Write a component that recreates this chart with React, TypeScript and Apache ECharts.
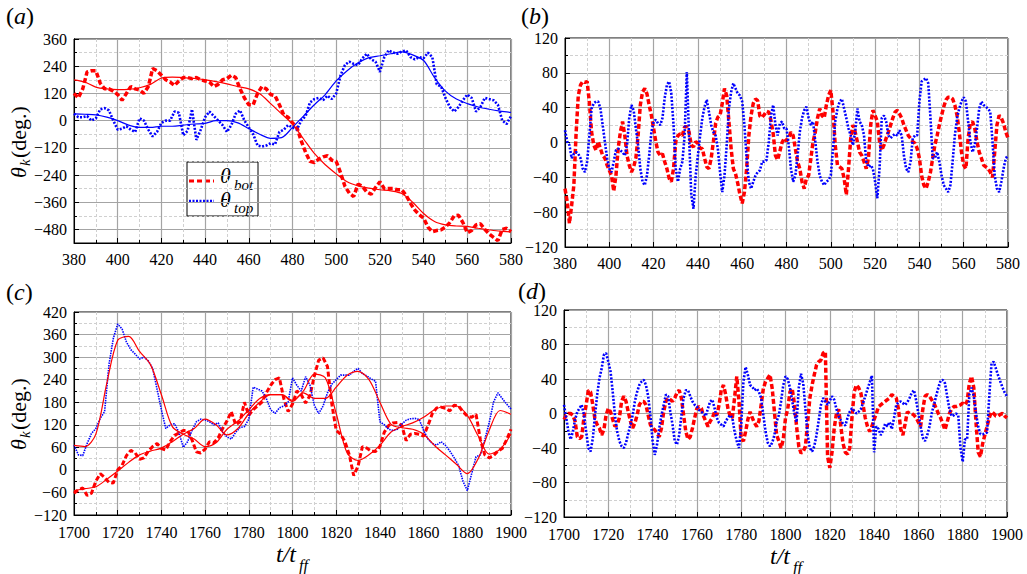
import React, { useEffect, useRef } from 'react';
import * as echarts from 'echarts';

const SERIF = 'Liberation Serif';
const RED = '#ff0000';
const BLUE = '#0000ff';

// ---------- Panel (a): t = 380..580 ----------
const A_START = 380;
const A_RAW_STEP = 2;
const A_FIT_STEP = 5;
const aBotRaw = [
  120, 100, 140, 215, 220, 220, 165, 140, 140, 130,
  115, 90, 120, 150, 140, 135, 120, 150, 230, 220,
  200, 180, 170, 155, 175, 190, 190, 185, 190, 180,
  175, 170, 150, 160, 180, 185, 200, 190, 140, 100,
  70, 70, 120, 150, 140, 115, 110, 70, 25, 15,
  -10, -30, -90, -140, -180, -185, -170, -160, -155, -175,
  -180, -230, -290, -320, -335, -280, -290, -315, -325, -295,
  -270, -300, -300, -300, -305, -305, -330, -365, -395, -415,
  -430, -470, -490, -485, -482, -470, -450, -420, -418, -450,
  -495, -485, -460, -455, -480, -500, -515, -530, -480, -475,
  -490,
];
const aTopRaw = [
  30, 15, 15, 20, 0, 10, 50, 55, 45, 0,
  -40, -35, -25, -40, -50, 10, 0, -40, -70, -50,
  -10, 0, 0, 40, 35, -65, -45, 50, -85, -40,
  15, 40, 20, 0, -20, -50, -20, 30, 45, 0,
  -30, -60, -110, -115, -110, -100, -105, -50, -40, -20,
  -30, -40, 0, 20, 80, 95, 100, 90, 110, 95,
  120, 200, 245, 260, 250, 245, 275, 295, 270, 260,
  215, 280, 310, 300, 295, 305, 310, 280, 270, 280,
  275, 300, 280, 160, 150, 100, 60, 40, 60, 90,
  115, 100, 40, 60, 100, 95, 90, 70, 0, -15,
  20,
];
const aBotFit = [
  180, 170, 148, 140, 137, 138, 145, 160, 188, 192,
  190, 186, 180, 172, 162, 150, 140, 118, 75, 30,
  -15, -80, -145, -195, -235, -270, -288, -298, -305, -310,
  -322, -360, -410, -445, -460, -465, -467, -475, -482, -488,
  -491,
];
const aTopFit = [
  30, 28, 25, 15, 0, -20, -30, -30, -25, -25,
  -20, -15, -12, 0, 0, -10, -35, -60, -78, -75,
  -30, 20, 70, 115, 175, 220, 255, 278, 286, 295,
  303, 290, 265, 190, 130, 95, 75, 60, 50, 42,
  36,
];

// ---------- Panel (b): t = 380..580, step 1 ----------
const B_START = 380;
const B_STEP = 1;
const bBot = [
  -53, -68, -93, -72, -49, 10, 54, 66, 70, 69,
  70, 46, 12, -3, -9, 1, -7, -15, -18, -26,
  -32, -38, -56, -38, -7, 12, 24, 8, -15, -26,
  -34, -28, -18, 8, 43, 58, 62, 56, 43, 31,
  16, 1, -11, -15, -13, -22, -30, -41, -45, -30,
  1, 8, 10, 8, 18, 18, 12, -3, -5, 1,
  -1, -7, -7, -18, -28, -30, -18, 1, 22, 29,
  31, 45, 62, 54, 24, -7, -30, -36, -47, -60,
  -70, -57, -30, 8, 31, 45, 50, 48, 30, 29,
  32, 36, 35, 25, 10, -15, -20, -10, 0, 5,
  2, 5, 12, 8, -7, -22, -30, -45, -53, -41,
  -38, -18, 1, 12, 28, 39, 31, 28, 43, 54,
  60, 35, -3, -26, -28, -30, -41, -60, -30, 5,
  20, 12, 1, -11, -15, -22, -30, -18, 20, 37,
  31, 24, 1, -9, -3, 5, 12, 20, 28, 35,
  37, 33, 28, 20, 14, 8, 5, 1, -1, -7,
  -18, -38, -49, -53, -45, -34, -18, -3, 8, 20,
  31, 41, 49, 52, 52, 50, 43, 31, 12, -11,
  -26, -30, 5, 22, 24, 16, 1, -11, -18, -26,
  -28, -30, -34, -40, -11, 20, 31, 28, 22, 12,
  5,
];
const bTop = [
  14, 1, -3, -18, -13, -11, -13, -18, -30, -34,
  -22, 8, 39, 45, 47, 47, 39, 20, 1, -18,
  -30, -34, -22, -9, -7, -9, -11, -15, -3, 28,
  43, 37, 16, -3, -30, -45, -49, -38, -15, 12,
  24, 26, 22, 20, 28, 51, 66, 70, 56, 20,
  -30, -45, -30, -22, 8, 81, 8, -60, -76, -38,
  -15, 8, 28, 41, 49, 35, 20, 12, 8, -7,
  -34, -57, -38, -3, 39, 58, 68, 62, 56, 54,
  47, 20, -18, -45, -53, -45, -38, -34, -32, -22,
  -22, -20, 1, 31, 43, 20, 8, 22, 24, 16,
  16, -3, -30, -45, -38, -15, 12, 28, 37, 41,
  28, 20, 24, 1, -22, -38, -45, -49, -45, -43,
  -38, -7, 24, 39, 47, 50, 39, 28, 16, 8,
  -3, 12, 39, 24, 20, 8, -22, -28, -26, -30,
  -45, -64, -30, 28, 31, 24, 8, 5, 8, 10,
  8, 14, 8, -15, -30, -34, -22, 5, 8, 8,
  47, 70, 72, 74, 68, 28, -18, -18, -11, -22,
  -38, -49, -53, -57, -49, -22, 8, 28, 39, 47,
  52, 47, 24, 1, -11, -3, 16, 39, 47, 43,
  41, 39, 35, 1, -38, -53, -57, -45, -30, -18,
  -15,
];

// ---------- Panel (c): t = 1700..1900 ----------
const C_START = 1700;
const C_RAW_STEP = 2;
const C_FIT_STEP = 5;
const cTopRaw = [
  66, 40, 38, 70, 97, 110, 137, 155, 280, 350,
  388, 375, 340, 320, 308, 295, 300, 290, 270, 215,
  160, 110, 120, 123, 100, 60, 75, 105, 128, 135,
  133, 128, 120, 125, 100, 88, 82, 100, 113, 115,
  135, 220, 215, 210, 190, 160, 150, 165, 170, 180,
  245, 225, 210, 248, 225, 172, 150, 170, 205, 228,
  240, 252, 252, 252, 262, 270, 256, 250, 242, 236,
  128, 120, 108, 105, 108, 122, 132, 136, 137, 134,
  105, 82, 70, 66, 75, 65, 50, 32, 12, -30,
  -55, -10, 35, 40, 80, 125, 180, 205, 190, 175,
  162,
];
const cBotRaw = [
  -62, -53, -48, -68, -62, -30, -10, -20, -33, -35,
  0, 12, 38, 52, 45, 28, 32, 50, 62, 70,
  57, 53, 75, 92, 98, 105, 105, 80, 48, 45,
  55, 75, 72, 85, 110, 130, 155, 120, 128, 180,
  145, 160, 170, 180, 205, 225, 240, 245, 190, 155,
  175, 210, 200, 178, 198, 250, 292, 298, 275, 175,
  105, 95, 75, 40, -15, 10, 62, 58, 50, 49,
  62, 100, 118, 125, 126, 118, 78, 95, 97, 95,
  90, 118, 150, 165, 167, 164, 157, 172, 170, 155,
  143, 140, 148, 80, 40, 32, 38, 50, 57, 80,
  108,
];
const cTopFit = [
  65, 62, 95, 230, 345, 355, 315, 280, 200, 115,
  95, 82, 62, 72, 108, 130, 160, 190, 200, 200,
  182, 205, 190, 190, 220, 252, 262, 240, 180, 122,
  112, 108, 95, 65, 40, 15, -10, 30, 105, 158,
  148,
];
const cBotFit = [
  -55, -50, -45, -25, -3, 20, 40, 50, 58, 75,
  95, 110, 135, 120, 93, 110, 150, 180, 200, 200,
  185, 210, 255, 245, 150, 45, 25, 40, 65, 100,
  115, 125, 140, 160, 170, 170, 145, 90, 42, 55,
  95,
];

// ---------- Panel (d): t = 1700..1900, step 1 ----------
const D_START = 1700;
const D_STEP = 1;
const dBot = [
  -7, -2, 0, 0, -2, -9, -27, -29, -27, -5,
  10, 27, 25, 10, -7, -13, -17, -25, -19, -2,
  6, 2, -7, -15, -13, -5, 14, 20, 14, 2,
  -9, -17, -11, -2, 10, 14, 14, 10, -2, -13,
  -17, -19, -23, -27, -17, 2, 14, 18, 16, 14,
  18, 24, 27, 18, -2, -21, -30, -27, -17, -5,
  6, 8, 6, -3, -9, -15, -9, -5, 2, -2,
  10, 27, 33, 22, 6, -3, -5, 18, 43, 14,
  -29, -32, -21, -7, 2, -5, -11, -15, -9, 10,
  29, 37, 41, 45, 29, 2, -25, -32, -40, -30,
  -5, 5, 25, 29, 12, -15, -38, -46, -44, -38,
  -10, 18, 33, 45, 56, 60, 62, 70, 72, -50,
  -63, -45, -17, 0, 5, -15, -35, -45, -47, -40,
  -5, 25, 33, 30, 24, 10, -5, -15, -21, -15,
  -7, 0, 8, 10, 12, 14, 16, 18, 22, 20,
  18, 5, -18, -25, -12, 2, 0, 0, -2, -5,
  -10, -15, 5, 20, 22, 20, 16, 12, 6, 0,
  -5, -12, -19, -10, 0, 5, 8, 8, 9, 10,
  12, 10, 14, 35, 43, 30, -10, -45, -50, -35,
  -25, -15, -5, 2, 0, -3, -3, -1, 0, -3,
  -5,
];
const dTop = [
  10, -5, -21, -30, -21, -7, 2, 6, 10, -2,
  -21, -40, -44, -29, -2, 22, 41, 52, 68, 70,
  60, 49, 25, -2, -21, -32, -38, -40, -34, -23,
  -13, -2, 14, 25, 33, 37, 39, 33, 20, -2,
  -32, -48, -36, -17, -2, 10, 22, 20, 2, -13,
  -32, -36, -25, -2, 18, 27, 27, 20, 14, 10,
  8, 4, 2, 0, -3, 6, 14, 16, 6, -5,
  -11, -13, -15, -9, -5, -2, -5, -21, -32, -40,
  -13, 37, 54, 45, 33, 31, 27, 29, 25, 18,
  -2, -21, -34, -38, -34, -25, -9, -2, 14, 33,
  43, 40, 30, 15, 0, -10, 30, 46, 35, 5,
  -25, -40, -44, -38, -25, -8, 10, 18, 14, 10,
  15, 20, 16, 5, -3, -8, -12, -14, -5, 2,
  6, 3, 0, 2, 5, 12, 20, 28, 36, 44,
  -45, -15, -18, -25, -20, -12, -15, -10, -18, -5,
  10, 13, 14, 12, 10, 13, 18, 24, 27, 15,
  0, -15, -28, -32, -25, -15, 0, 10, 20, 30,
  38, 39, 35, 20, 5, -3, -2, 0, -2, -40,
  -56, -30, -30, 22, 30, 20, 0, -15, -24, -24,
  -23, -22, 20, 58, 60, 52, 44, 37, 30, 24,
  20,
];

// Axis tick labels of panel (a)'s y axis
const yMajorA = [-480, -360, -240, -120, 0, 120, 240, 360];

const toPairs = (vals: number[], start: number, step: number) =>
  vals.map((v, i) => [start + i * step, v]);

const fmt = (v: number) => (v < 0 ? '\u2212' + Math.abs(v) : String(v));

const axisFont = { fontFamily: SERIF, fontSize: 16, color: '#000' };
const majorLine = { show: true, lineStyle: { color: '#a4a4a4', width: 1.2 } };
const minorLine = { show: true, lineStyle: { color: '#d0d0d0', width: 1, type: [3, 2] as any } };
const blackLine = { show: true, onZero: false, lineStyle: { color: '#000', width: 1 } };

function makeX(gridIndex: number, min: number, max: number, margin: number) {
  return {
    type: 'value', gridIndex, min, max, interval: 20,
    axisLine: blackLine,
    axisTick: { show: true, inside: true, length: 5, lineStyle: { color: '#000' } },
    minorTick: { show: true, splitNumber: 2, length: 3, lineStyle: { color: '#000' } },
    axisLabel: { ...axisFont, margin, formatter: fmt, showMinLabel: true, showMaxLabel: true },
    splitLine: majorLine,
    minorSplitLine: minorLine,
  };
}

function makeY(gridIndex: number, min: number, max: number, interval: number) {
  return {
    type: 'value', gridIndex, min, max, interval, position: 'left',
    axisLine: blackLine,
    axisTick: { show: true, inside: true, length: 5, lineStyle: { color: '#000' } },
    minorTick: { show: true, splitNumber: 2, length: 3, lineStyle: { color: '#000' } },
    axisLabel: { ...axisFont, margin: 7, formatter: fmt, showMinLabel: true, showMaxLabel: true },
    splitLine: majorLine,
    minorSplitLine: minorLine,
  };
}

const rawRed = (data: number[][], xi: number, yi: number, w = 3.5) => ({
  type: 'line', xAxisIndex: xi, yAxisIndex: yi, data, symbol: 'none', silent: true,
  lineStyle: { color: RED, width: w, type: [5, 2.5], cap: 'butt' }, z: 3,
});
const rawBlue = (data: number[][], xi: number, yi: number, w = 2.6, dash = [2, 1.6]) => ({
  type: 'line', xAxisIndex: xi, yAxisIndex: yi, data, symbol: 'none', silent: true,
  lineStyle: { color: BLUE, width: w, type: dash, cap: 'butt' }, z: 4,
});
const fit = (data: number[][], color: string, xi: number, yi: number) => ({
  type: 'line', xAxisIndex: xi, yAxisIndex: yi, data, symbol: 'none', silent: true, smooth: 0.3,
  lineStyle: { color, width: 1.2, type: 'solid' }, z: 5,
});

const txt = (x: number, y: number, text: string, size: number, italic: boolean) => ({
  type: 'text', x, y,
  style: {
    text, fontFamily: SERIF, fontSize: size, fontStyle: italic ? 'italic' : 'normal',
    fill: '#000', verticalAlign: 'middle', align: 'left',
  },
});

function panelLabel(x: number, y: number, letter: string) {
  return {
    type: 'text', left: x, top: y, z: 10,
    style: {
      text: `{p|(}{i|${letter}}{p|)}`,
      rich: {
        p: { fontFamily: SERIF, fontSize: 24, fill: '#000' },
        i: { fontFamily: SERIF, fontSize: 24, fontStyle: 'italic', fill: '#000' },
      },
    },
  };
}

function yName(cx: number, cy: number) {
  return {
    type: 'group', x: cx, y: cy, rotation: Math.PI / 2, z: 10,
    children: [
      txt(-35, 0, '\u03b8', 22, true),
      txt(-23, 7, 'k', 15, true),
      txt(-15, 0, '(deg.)', 22, false),
    ],
  };
}

function xName(x: number, y: number) {
  return {
    type: 'group', x, y, z: 10,
    children: [
      txt(0, 0, 't/t', 24, true),
      txt(23, 11, 'ff', 16, true),
    ],
  };
}

const legend = {
  type: 'group', x: 187, y: 162, z: 20,
  children: [
    { type: 'rect', shape: { x: 0, y: 0, width: 71, height: 54 }, style: { fill: '#fff', stroke: '#000', lineWidth: 1 } },
    { type: 'line', shape: { x1: 2, y1: 19, x2: 27, y2: 19 }, style: { stroke: RED, lineWidth: 3, lineDash: [5, 3] } },
    txt(33, 13, '\u03b8', 22, true),
    txt(47, 23, 'bot', 15, true),
    { type: 'line', shape: { x1: 2, y1: 39, x2: 27, y2: 39 }, style: { stroke: BLUE, lineWidth: 2.5, lineDash: [2, 1.5] } },
    txt(33, 37, '\u03b8', 22, true),
    txt(47, 46, 'top', 15, true),
  ],
};

function buildOption() {
  const gridBase = { show: true, borderColor: '#000', borderWidth: 1, backgroundColor: 'transparent', containLabel: false };
  return {
    animation: false,
    backgroundColor: '#fff',
    grid: [
      { ...gridBase, left: 74, top: 39, width: 437, height: 204 },
      { ...gridBase, left: 565, top: 38, width: 443, height: 209 },
      { ...gridBase, left: 74, top: 312, width: 437, height: 203 },
      { ...gridBase, left: 564, top: 310, width: 443, height: 207 },
    ],
    xAxis: [
      makeX(0, 380, 580, 8),
      makeX(1, 380, 580, 8),
      makeX(2, 1700, 1900, 9),
      makeX(3, 1700, 1900, 9),
    ],
    yAxis: [
      {
        type: 'value', gridIndex: 0, min: -540, max: 360, interval: 60, position: 'left',
        axisLine: blackLine,
        axisTick: { show: true, inside: true, length: 3, lineStyle: { color: '#000' } },
        axisLabel: { show: false },
        splitLine: minorLine,
      },
      {
        type: 'value', gridIndex: 0, min: -540, max: 360, position: 'left', offset: 0,
        axisLine: blackLine,
        axisTick: { show: true, inside: true, length: 5, lineStyle: { color: '#000' }, customValues: yMajorA },
        axisLabel: { ...axisFont, margin: 7, formatter: fmt, customValues: yMajorA },
        splitLine: majorLine,
      },
      makeY(1, -120, 120, 40),
      makeY(2, -120, 420, 60),
      makeY(3, -120, 120, 40),
    ],
    series: [
      rawRed(toPairs(aBotRaw, A_START, A_RAW_STEP), 0, 0),
      rawBlue(toPairs(aTopRaw, A_START, A_RAW_STEP), 0, 0),
      fit(toPairs(aBotFit, A_START, A_FIT_STEP), RED, 0, 0),
      fit(toPairs(aTopFit, A_START, A_FIT_STEP), BLUE, 0, 0),

      rawRed(toPairs(bBot, B_START, B_STEP), 1, 2),
      rawBlue(toPairs(bTop, B_START, B_STEP), 1, 2),

      rawBlue(toPairs(cTopRaw, C_START, C_RAW_STEP), 2, 3, 1.6, [1.5, 1]),
      rawRed(toPairs(cBotRaw, C_START, C_RAW_STEP), 2, 3, 3),
      fit(toPairs(cTopFit, C_START, C_FIT_STEP), RED, 2, 3),
      fit(toPairs(cBotFit, C_START, C_FIT_STEP), RED, 2, 3),

      rawRed(toPairs(dBot, D_START, D_STEP), 3, 4),
      rawBlue(toPairs(dTop, D_START, D_STEP), 3, 4),
    ],
    graphic: [
      panelLabel(6, 4, 'a'),
      panelLabel(521, 4, 'b'),
      panelLabel(6, 280, 'c'),
      panelLabel(518, 279, 'd'),
      yName(18, 143),
      yName(18, 415),
      xName(276, 554),
      xName(770, 556),
      legend,
    ],
  };
}

export default function App() {
  const ref = useRef<HTMLDivElement>(null);
  useEffect(() => {
    if (!ref.current) return;
    const chart = echarts.init(ref.current, null, { renderer: 'svg' });
    chart.setOption(buildOption() as any);
    return () => chart.dispose();
  }, []);
  return (
    <div
      ref={ref}
      style={{ position: 'absolute', left: 0, top: 0, width: 1027, height: 574, background: '#fff' }}
    />
  );
}
